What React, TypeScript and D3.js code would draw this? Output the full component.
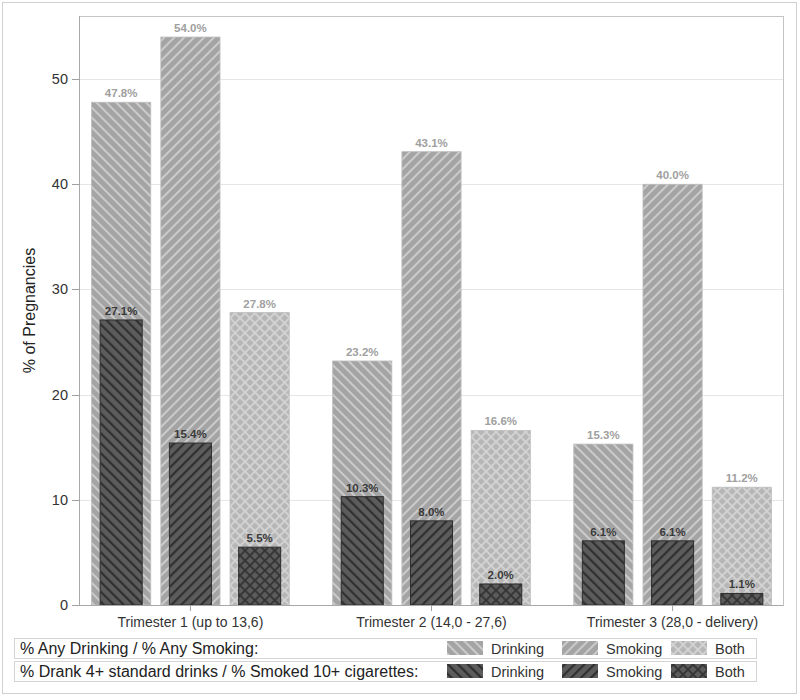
import React from 'react';
import * as d3 from 'd3';

const trimesters = ['Trimester 1 (up to 13,6)', 'Trimester 2 (14,0 - 27,6)', 'Trimester 3 (28,0 - delivery)'];
const measures = ['Drinking', 'Smoking', 'Both'];
const anyValues = [
  [47.8, 54.0, 27.8],
  [23.2, 43.1, 16.6],
  [15.3, 40.0, 11.2],
];
const heavyValues = [
  [27.1, 15.4, 5.5],
  [10.3, 8.0, 2.0],
  [6.1, 6.1, 1.1],
];
const yTicks = [0, 10, 20, 30, 40, 50];
const legendRows = ['% Any Drinking / % Any Smoking:', '% Drank 4+ standard drinks / % Smoked 10+ cigarettes:'];

const W = 800, H = 700;
const plot = { left: 79, right: 783, top: 16, bottom: 605 };
const FONT = 'Liberation Sans, Arial, sans-serif';

const lightPat = ['pLD', 'pLS', 'pLB'];
const darkPat = ['pDD', 'pDS', 'pDB'];

function Stripe({ id, angle, base, line, size, lw }: any) {
  return (
    <pattern id={id} patternUnits="userSpaceOnUse" width={size} height={size} patternTransform={`rotate(${angle})`}>
      <rect width={size} height={size} fill={base} />
      <rect x={0} y={0} width={lw} height={size} fill={line} />
    </pattern>
  );
}
function Cross({ id, base, line, size, lw }: any) {
  return (
    <pattern id={id} patternUnits="userSpaceOnUse" width={size} height={size} patternTransform="rotate(45)">
      <rect width={size} height={size} fill={base} />
      <rect x={0} y={0} width={lw} height={size} fill={line} />
      <rect x={0} y={0} width={size} height={lw} fill={line} />
    </pattern>
  );
}

export default function App() {
  const y = d3.scaleLinear().domain([0, 56]).range([plot.bottom, plot.top]);
  const x0 = d3.scaleBand<string>().domain(trimesters).range([80, plot.right]).paddingInner(0.18).paddingOuter(0.048);
  const x1 = d3.scaleBand<string>().domain(measures).range([0, x0.bandwidth()]).paddingInner(0.145).paddingOuter(0);
  const bw = x1.bandwidth();
  const inset = bw * 0.145;

  const legendX = [447, 562, 671];

  return (
    <svg width={W} height={H} style={{ position: 'absolute', left: 0, top: 0 }} fontFamily={FONT}>
      <defs>
        <Stripe id="pLD" angle={-45} base="#a4a4a4" line="#cbcbcb" size={7} lw={2} />
        <Stripe id="pLS" angle={45} base="#a4a4a4" line="#cbcbcb" size={7} lw={2} />
        <Cross id="pLB" base="#b6b6b6" line="#d4d4d4" size={7} lw={1.8} />
        <Stripe id="pDD" angle={-45} base="#5c5c5c" line="#303030" size={7} lw={2.2} />
        <Stripe id="pDS" angle={45} base="#5c5c5c" line="#303030" size={7} lw={2.2} />
        <Cross id="pDB" base="#5c5c5c" line="#343434" size={7} lw={1.8} />
      </defs>
      <rect x={0} y={0} width={W} height={H} fill="#fff" />
      <rect x={2.5} y={2.5} width={794} height={691} fill="none" stroke="#d0d0d0" />

      {/* gridlines */}
      {yTicks.filter(t => t > 0).map(t => (
        <line key={t} x1={plot.left} x2={plot.right} y1={Math.round(y(t)) + 0.5} y2={Math.round(y(t)) + 0.5} stroke="#e6e6e6" />
      ))}

      {/* bars */}
      {trimesters.map((tri, gi) => (
        <g key={tri} transform={`translate(${x0(tri)},0)`}>
          {measures.map((m, mi) => {
            const v = anyValues[gi][mi];
            const bx = x1(m)!;
            return (
              <g key={m}>
                <rect x={bx} y={y(v)} width={bw} height={y(0) - y(v)} fill={`url(#${lightPat[mi]})`} stroke="#bdbdbd" strokeWidth={0.8} />
                <text x={bx + bw / 2} y={y(v) - 5} textAnchor="middle" fontSize={11.5} fontWeight="bold" fill="#a0a0a0">{v.toFixed(1)}%</text>
              </g>
            );
          })}
          {measures.map((m, mi) => {
            const v = heavyValues[gi][mi];
            const bx = x1(m)! + inset;
            const w = bw - 2 * inset;
            return (
              <g key={m + 'h'}>
                <rect x={bx} y={y(v)} width={w} height={y(0) - y(v)} fill={`url(#${darkPat[mi]})`} stroke="#2e2e2e" strokeWidth={1} />
                <text x={bx + w / 2} y={y(v) - 5} textAnchor="middle" fontSize={11.5} fontWeight="bold" fill="#3a3a3a">{v.toFixed(1)}%</text>
              </g>
            );
          })}
        </g>
      ))}

      {/* plot frame */}
      <rect x={plot.left + 0.5} y={plot.top + 0.5} width={plot.right - plot.left} height={plot.bottom - plot.top} fill="none" stroke="#c4c4c4" />
      <line x1={plot.left + 0.5} x2={plot.left + 0.5} y1={plot.top} y2={plot.bottom} stroke="#a8a8a8" />
      <line x1={plot.left} x2={plot.right} y1={plot.bottom + 0.5} y2={plot.bottom + 0.5} stroke="#a8a8a8" />

      {/* y axis */}
      {yTicks.map(t => (
        <g key={t}>
          <line x1={plot.left - 7} x2={plot.left} y1={Math.round(y(t)) + 0.5} y2={Math.round(y(t)) + 0.5} stroke="#a0a0a0" />
          <text x={plot.left - 11} y={y(t) + 5} textAnchor="end" fontSize={14.5} fill="#333">{t}</text>
        </g>
      ))}
      <text transform={`translate(35,${(plot.top + plot.bottom) / 2}) rotate(-90)`} textAnchor="middle" fontSize={16} fill="#222">% of Pregnancies</text>

      {/* x axis */}
      {trimesters.map(tri => {
        const cx = x0(tri)! + x0.bandwidth() / 2;
        return (
          <g key={tri}>
            <line x1={cx} x2={cx} y1={plot.bottom} y2={plot.bottom + 6} stroke="#a0a0a0" />
            <text x={cx} y={plot.bottom + 22} textAnchor="middle" fontSize={14} fill="#333">{tri}</text>
          </g>
        );
      })}

      {/* legend */}
      {legendRows.map((label, ri) => {
        const top = 638 + ri * 23;
        const pats = ri === 0 ? lightPat : darkPat;
        return (
          <g key={label}>
            <rect x={14.5} y={top + 0.5} width={742} height={20} fill="#fff" stroke="#d4d4d4" />
            <text x={20} y={top + 16} fontSize={16} fill="#222">{label}</text>
            {measures.map((m, mi) => (
              <g key={m}>
                <rect x={legendX[mi]} y={top + 3} width={36} height={14} fill={`url(#${pats[mi]})`} />
                <text x={legendX[mi] + 44} y={top + 15.5} fontSize={14.5} fill="#333">{m}</text>
              </g>
            ))}
          </g>
        );
      })}
    </svg>
  );
}
